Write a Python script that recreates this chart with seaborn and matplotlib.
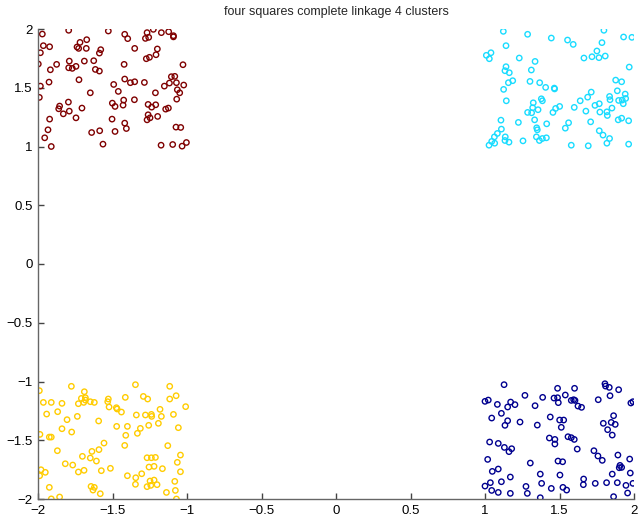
import numpy as np
import pandas as pd
import matplotlib
matplotlib.use("Agg")
import matplotlib.pyplot as plt
import seaborn as sns

title = "four squares complete linkage 4 clusters"
ticks = [-2, -1.5, -1, -0.5, 0, 0.5, 1, 1.5, 2]
tick_labels = ["\u22122", "\u22121.5", "\u22121", "\u22120.5", "0", "0.5", "1", "1.5", "2"]
cluster_names = ["c1", "c2", "c3", "c4"]
cluster_colors = ["#7f0000", "#19dcff", "#ffcc00", "#00008f"]

red_x = [-1.971, -1.794, -1.964, -1.922, -1.718, -1.673, -1.738, -1.727, -1.676, -1.579, -1.588, -1.984,
         -1.998, -1.875, -1.790, -1.794, -1.770, -1.745, -1.689, -1.626, -1.917, -1.615, -1.588, -1.725,
         -1.926, -1.984, -1.649, -1.991, -1.796, -1.855, -1.861, -1.790, -1.830, -1.705, -1.922, -1.745,
         -1.933, -1.640, -1.586, -1.955, -1.564, -1.911,
         -1.528, -1.418, -1.398, -1.268, -1.279, -1.257, -1.226, -1.172, -1.123, -1.091, -1.091, -1.351,
         -1.199, -1.208, -1.273, -1.252, -1.422, -1.027, -1.105, -1.082, -1.418, -1.492, -1.380, -1.351,
         -1.286, -1.118, -1.071, -1.022, -1.152, -1.461, -1.212, -1.065, -1.049, -1.501, -1.483, -1.425,
         -1.429, -1.353, -1.069, -1.261, -1.237, -1.210, -1.143, -1.125, -1.261, -1.248, -1.268, -1.197,
         -1.503, -1.418, -1.407, -1.483, -1.074, -1.042, -1.174, -1.096, -1.033, -1.004]
red_y = [1.957, 1.989, 1.858, 1.849, 1.886, 1.909, 1.847, 1.835, 1.835, 1.824, 1.795, 1.798,
         1.702, 1.699, 1.727, 1.670, 1.665, 1.682, 1.727, 1.730, 1.653, 1.656, 1.642, 1.568,
         1.548, 1.514, 1.457, 1.418, 1.378, 1.344, 1.321, 1.301, 1.278, 1.327, 1.233, 1.244,
         1.142, 1.119, 1.134, 1.074, 1.020, 1.000,
         1.983, 1.955, 1.918, 1.969, 1.920, 1.929, 1.997, 1.969, 1.977, 1.943, 1.933, 1.835,
         1.830, 1.781, 1.747, 1.759, 1.699, 1.696, 1.594, 1.597, 1.574, 1.528, 1.543, 1.551,
         1.545, 1.540, 1.543, 1.523, 1.514, 1.469, 1.457, 1.483, 1.457, 1.369, 1.341, 1.395,
         1.352, 1.398, 1.403, 1.358, 1.335, 1.355, 1.318, 1.327, 1.270, 1.244, 1.227, 1.256,
         1.233, 1.199, 1.153, 1.128, 1.165, 1.162, 1.011, 1.017, 1.003, 1.034]

cyan_x = [1.123, 1.286, 1.445, 1.141, 1.009, 1.040, 1.029, 1.230, 1.336, 1.141, 1.134, 1.163,
          1.311, 1.186, 1.157, 1.302, 1.367, 1.407, 1.465, 1.467, 1.125, 1.143, 1.378, 1.385,
          1.324, 1.320, 1.286, 1.313, 1.356, 1.456, 1.474, 1.107, 1.224, 1.333, 1.414, 1.347,
          1.351, 1.110, 1.083, 1.063, 1.045, 1.065, 1.027, 1.136, 1.134, 1.161, 1.255, 1.345,
          1.365, 1.385, 1.412,
          1.798, 1.554, 1.592, 1.930, 1.986, 1.785, 1.751, 1.664, 1.718, 1.765, 1.807, 1.968,
          1.877, 1.917, 1.888, 1.941, 1.944, 1.921, 1.897, 1.928, 1.713, 1.689, 1.639, 1.836,
          1.839, 1.767, 1.738, 1.501, 1.599, 1.852, 1.677, 1.771, 1.818, 1.821, 1.917, 1.894,
          1.964, 1.709, 1.561, 1.539, 1.767, 1.792, 1.836, 1.818, 1.579, 1.693, 1.964]
cyan_y = [1.980, 1.955, 1.923, 1.858, 1.776, 1.798, 1.747, 1.753, 1.724, 1.679, 1.645, 1.628,
          1.651, 1.560, 1.543, 1.554, 1.543, 1.503, 1.497, 1.490, 1.486, 1.389, 1.406, 1.389,
          1.372, 1.330, 1.290, 1.287, 1.313, 1.290, 1.324, 1.224, 1.205, 1.227, 1.193, 1.159,
          1.142, 1.148, 1.111, 1.082, 1.043, 1.028, 1.011, 1.082, 1.051, 1.037, 1.048, 1.082,
          1.051, 1.068, 1.074,
          1.989, 1.906, 1.869, 1.932, 1.929, 1.884, 1.813, 1.753, 1.764, 1.756, 1.770, 1.676,
          1.565, 1.551, 1.474, 1.446, 1.409, 1.395, 1.392, 1.364, 1.463, 1.420, 1.389, 1.426,
          1.398, 1.364, 1.350, 1.341, 1.333, 1.327, 1.301, 1.293, 1.295, 1.264, 1.241, 1.227,
          1.219, 1.210, 1.202, 1.156, 1.134, 1.097, 1.068, 1.028, 1.011, 1.006, 1.020]

yellow_x = [-1.991, -1.776, -1.689, -1.709, -1.682, -1.682, -1.693, -1.729, -1.649, -1.622, -1.964, -1.911,
            -1.839, -1.868, -1.942, -1.736, -1.805, -1.593, -1.839, -1.774, -1.987, -1.924, -1.911, -1.557,
            -1.870, -1.591, -1.638, -1.702, -1.649, -1.608, -1.817, -1.767, -1.980, -1.951, -1.691, -1.729,
            -1.575, -1.989, -1.924, -1.644, -1.622, -1.631, -1.582, -1.855, -1.911,
            -1.346, -1.116, -1.528, -1.532, -1.523, -1.414, -1.293, -1.264, -1.116, -1.073, -1.009, -1.474,
            -1.469, -1.440, -1.181, -1.340, -1.279, -1.239, -1.237, -1.172, -1.091, -1.472, -1.400, -1.313,
            -1.257, -1.192, -1.058, -1.411, -1.333, -1.418, -1.129, -1.044, -1.268, -1.239, -1.212, -1.065,
            -1.255, -1.221, -1.165, -1.514, -1.044, -1.304, -1.400, -1.344, -1.248, -1.221, -1.201, -1.243,
            -1.268, -1.346, -1.082, -1.138, -1.078, -1.071]
yellow_y = [-1.078, -1.041, -1.087, -1.144, -1.138, -1.158, -1.178, -1.189, -1.172, -1.178, -1.178, -1.178,
            -1.186, -1.257, -1.277, -1.297, -1.325, -1.336, -1.402, -1.430, -1.450, -1.473, -1.473, -1.524,
            -1.589, -1.580, -1.595, -1.637, -1.651, -1.677, -1.700, -1.711, -1.751, -1.773, -1.756, -1.770,
            -1.759, -1.802, -1.901, -1.893, -1.901, -1.924, -1.955, -1.983, -1.999,
            -1.027, -1.041, -1.149, -1.172, -1.217, -1.135, -1.127, -1.149, -1.149, -1.121, -1.214, -1.223,
            -1.234, -1.260, -1.237, -1.285, -1.285, -1.280, -1.297, -1.297, -1.280, -1.382, -1.382, -1.399,
            -1.373, -1.356, -1.393, -1.458, -1.441, -1.544, -1.546, -1.626, -1.649, -1.649, -1.646, -1.688,
            -1.728, -1.722, -1.742, -1.739, -1.768, -1.785, -1.802, -1.819, -1.847, -1.839, -1.878, -1.884,
            -1.895, -1.875, -1.850, -1.944, -1.927, -2.000]

blue_x = [1.128, 1.268, 1.000, 1.022, 1.083, 1.152, 1.172, 1.201, 1.387, 1.336, 1.110, 1.045,
          1.152, 1.134, 1.235, 1.351, 1.438, 1.432, 1.031, 1.089, 1.130, 1.161, 1.179, 1.018,
          1.304, 1.049, 1.089, 1.170, 1.371, 1.000, 1.036, 1.110, 1.045, 1.089, 1.170, 1.275,
          1.284, 1.380, 1.445, 1.371,
          1.487, 1.463, 1.487, 1.492, 1.539, 1.601, 1.579, 1.595, 1.604, 1.624, 1.648, 1.760,
          1.805, 1.809, 1.834, 1.897, 1.839, 1.979, 1.993, 1.501, 1.528, 1.512, 1.863, 1.794,
          1.847, 1.874, 1.823, 1.854, 1.469, 1.469, 1.557, 1.579, 1.599, 1.619, 1.731, 1.758,
          1.787, 1.892, 1.971, 1.490, 1.521, 1.906, 1.917, 1.901, 1.854, 1.975, 1.503, 1.662,
          1.660, 1.740, 1.816, 1.888, 1.946, 1.993, 1.523, 1.548, 1.957, 1.863]
blue_y = [-1.027, -1.118, -1.169, -1.158, -1.195, -1.217, -1.175, -1.197, -1.135, -1.206, -1.271, -1.311,
          -1.334, -1.373, -1.345, -1.371, -1.302, -1.481, -1.515, -1.527, -1.561, -1.597, -1.572, -1.663,
          -1.694, -1.765, -1.745, -1.813, -1.788, -1.890, -1.861, -1.853, -1.927, -1.944, -1.952, -1.893,
          -1.952, -1.867, -1.910, -1.989,
          -1.058, -1.141, -1.138, -1.180, -1.115, -1.058, -1.161, -1.155, -1.161, -1.209, -1.220, -1.155,
          -1.019, -1.039, -1.050, -1.070, -1.121, -1.183, -1.172, -1.328, -1.328, -1.390, -1.291, -1.356,
          -1.348, -1.365, -1.410, -1.456, -1.493, -1.532, -1.470, -1.478, -1.493, -1.575, -1.589, -1.634,
          -1.671, -1.626, -1.660, -1.677, -1.683, -1.714, -1.731, -1.734, -1.788, -1.779, -1.796, -1.830,
          -1.878, -1.867, -1.861, -1.861, -1.884, -1.867, -1.901, -1.924, -1.949, -1.980]

frames = []
for name, xs, ys in zip(cluster_names,
                        [red_x, cyan_x, yellow_x, blue_x],
                        [red_y, cyan_y, yellow_y, blue_y]):
    frames.append(pd.DataFrame({"x": xs, "y": ys, "cluster": name}))
df = pd.concat(frames, ignore_index=True)

sns.set_theme(style="ticks")
plt.rcParams["font.family"] = ["Liberation Sans", "DejaVu Sans"]

fig = plt.figure(figsize=(6.40, 5.19), dpi=100)
ax = fig.add_axes([38 / 640, 20 / 519, 596 / 640, 470 / 519])

sns.scatterplot(data=df, x="x", y="y", hue="cluster", hue_order=cluster_names,
                palette=cluster_colors, marker="o", s=15, linewidth=1.0,
                legend=False, ax=ax)
for coll in ax.collections:
    fc = coll.get_facecolors()
    coll.set_edgecolors(fc)
    coll.set_facecolors("none")

ax.set_xlim(-2, 2)
ax.set_ylim(-2, 2)
ax.set_xticks(ticks)
ax.set_xticklabels(tick_labels)
ax.set_yticks(ticks)
ax.set_yticklabels(tick_labels)
ax.set_xlabel("")
ax.set_ylabel("")
ax.set_title(title, fontsize=9, pad=10)
for side in ["top", "right"]:
    ax.spines[side].set_visible(False)
for side in ["left", "bottom"]:
    ax.spines[side].set_color("#666666")
    ax.spines[side].set_linewidth(1.0)
ax.tick_params(direction="in", length=4, width=1.0, color="#444444",
               labelsize=9.5, labelcolor="black", pad=4)

fig.savefig("out.png", dpi=100)
